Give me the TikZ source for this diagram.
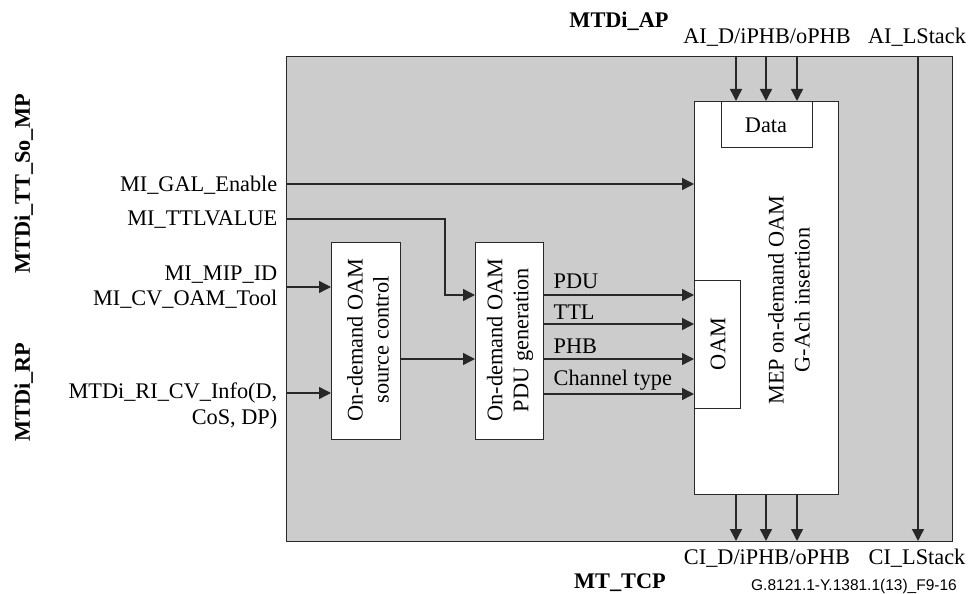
\documentclass[tikz,border=0pt]{standalone}
\usepackage{fontspec}
\setmainfont{Liberation Serif}
\newfontfamily\figsans{Liberation Sans}
\usetikzlibrary{arrows.meta}
\definecolor{bggray}{RGB}{204,204,204}
\definecolor{linegray}{RGB}{40,40,40}
\begin{document}
\begin{tikzpicture}[x=1pt,y=-1pt,line width=1.4pt,draw=linegray,
  lbl/.style={font=\fontsize{22.3}{26}\selectfont,inner sep=0pt},
  blbl/.style={font=\fontsize{22.3}{26}\selectfont\bfseries,inner sep=0pt},
  rlbl/.style={lbl,rotate=90,align=center},
  blk/.style={draw,fill=white,inner sep=0pt,anchor=north west},
  arr/.style={-{Triangle[length=12pt,width=12pt]}},
]
\useasboundingbox (0,0) rectangle (970,594);
% outer gray block
\node[draw,fill=bggray,inner sep=0pt,anchor=north west,minimum width=666pt,minimum height=485pt] (outer) at (286,56) {};
% inner blocks
\node[blk,minimum width=144pt,minimum height=393pt] (mep) at (694,101) {};
\node[blk,minimum width=91pt,minimum height=46pt] (data) at (721,101) {};
\node[blk,minimum width=46pt,minimum height=128pt] (oam) at (694,280) {};
\node[blk,minimum width=69pt,minimum height=197pt] (src) at (331,242) {};
\node[blk,minimum width=68pt,minimum height=197pt] (pdu) at (475,242) {};
% block texts
\node[lbl] (datat) at (766,125) {Data};
\node[rlbl] (oamt) at (718,344) {OAM};
\node[rlbl] (mept) at (789,300) {MEP on-demand OAM\\G-Ach insertion};
\node[rlbl] (srct) at (368,340) {On-demand OAM\\source control};
\node[rlbl] (pdut) at (510,340) {On-demand OAM\\PDU generation};
% level coordinates
\coordinate (galin) at (286,184);
\coordinate (ttlin) at (286,219);
\coordinate (mipin) at (286,287);
\coordinate (riin) at (286,393);
\coordinate (yPDU) at (0,295);
\coordinate (yTTL) at (0,324);
\coordinate (yPHB) at (0,359);
\coordinate (yCH) at (0,394);
\coordinate (t1) at (736,56);
\coordinate (t2) at (766,56);
\coordinate (t3) at (797,56);
\coordinate (b1) at (736,541);
\coordinate (b2) at (766,541);
\coordinate (b3) at (797,541);
\coordinate (ls1) at (918,56);
\coordinate (ls2) at (918,541);
% connectors
\draw[arr] (galin) -- (galin -| mep.west);
\draw[arr] (ttlin) -| ([xshift=-30pt]pdu.west |- yPDU) -- (pdu.west |- yPDU);
\draw[arr] (mipin) -- (src.west |- mipin);
\draw[arr] (riin) -- (src.west |- riin);
\draw[arr] (src.east |- yPHB) -- (pdu.west |- yPHB);
\draw[arr] (pdu.east |- yPDU) -- (oam.west |- yPDU);
\draw[arr] (pdu.east |- yTTL) -- (oam.west |- yTTL);
\draw[arr] (pdu.east |- yPHB) -- (oam.west |- yPHB);
\draw[arr] (pdu.east |- yCH) -- (oam.west |- yCH);
\draw[arr] (t1) -- (t1 |- data.north);
\draw[arr] (t2) -- (t2 |- data.north);
\draw[arr] (t3) -- (t3 |- data.north);
\draw[arr] (b1 |- mep.south) -- (b1);
\draw[arr] (b2 |- mep.south) -- (b2);
\draw[arr] (b3 |- mep.south) -- (b3);
\draw[arr] (ls1) -- (ls2);
% arrow labels
\node[lbl,anchor=base west] (lpdu) at (553,288) {PDU};
\node[lbl,anchor=base west] (lttl) at (553,319) {TTL};
\node[lbl,anchor=base west] (lphb) at (553,353) {PHB};
\node[lbl,anchor=base west] (lch) at (553,385) {Channel type};
% left labels
\node[lbl,anchor=base east] (lgal) at (278,191) {MI\_GAL\_Enable};
\node[lbl,anchor=base east] (lttlv) at (278,225) {MI\_TTLVALUE};
\node[lbl,anchor=base east] (lmip) at (278,280) {MI\_MIP\_ID};
\node[lbl,anchor=base east] (lcv) at (278,305) {MI\_CV\_OAM\_Tool};
\node[lbl,anchor=base east] (lri1) at (278,398) {MTDi\_RI\_CV\_Info(D,};
\node[lbl,anchor=base east] (lri2) at (278,424) {CoS, DP)};
\node[blbl,rotate=90,anchor=base] (lmp) at (30,184) {MTDi\_TT\_So\_MP};
\node[blbl,rotate=90,anchor=base] (lrp) at (30,392) {MTDi\_RP};
% top / bottom labels
\node[blbl,anchor=base] (lap) at (619,28) {MTDi\_AP};
\node[lbl,anchor=base] (lai) at (767,44) {AI\_D/iPHB/oPHB};
\node[lbl,anchor=base] (lail) at (917,44) {AI\_LStack};
\node[lbl,anchor=base] (lci) at (767,564) {CI\_D/iPHB/oPHB};
\node[lbl,anchor=base] (lcil) at (917,564) {CI\_LStack};
\node[blbl,anchor=base] (ltcp) at (620,588) {MT\_TCP};
\node[inner sep=0pt,anchor=base,font=\figsans\fontsize{15.5}{18}\selectfont] (lfig) at (854,590) {G.8121.1-Y.1381.1(13)\_F9-16};
\end{tikzpicture}
\end{document}
